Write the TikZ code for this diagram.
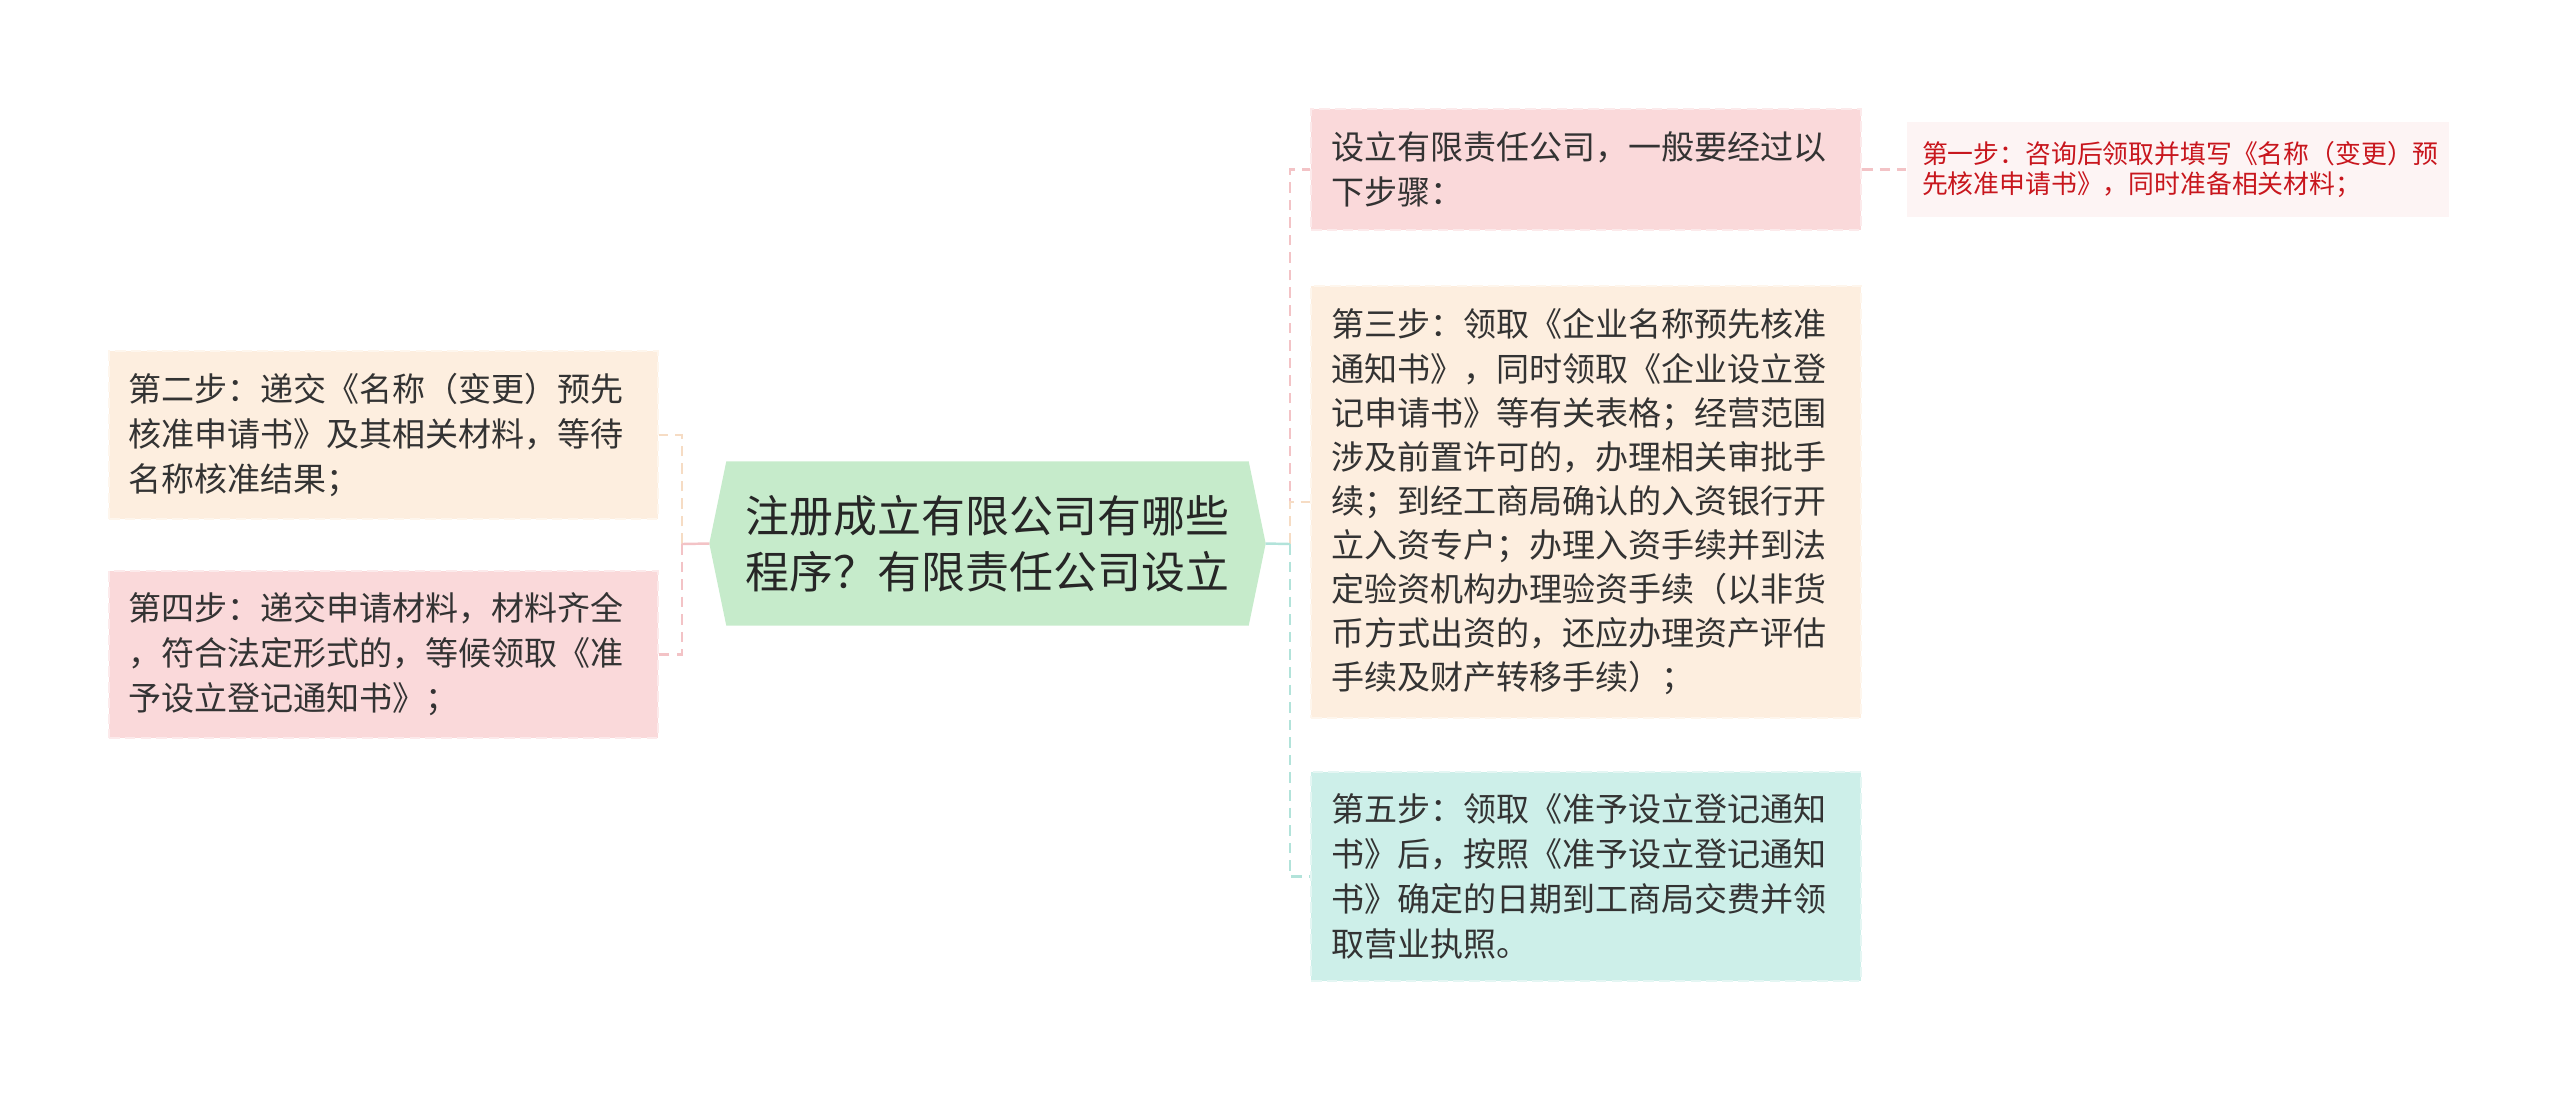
\documentclass[tikz,border=0pt]{standalone}
\usepackage{fontspec}
\setmainfont{Noto Sans CJK SC}
\usetikzlibrary{positioning}

\definecolor{peach}{HTML}{FDEEDF}
\definecolor{peachline}{HTML}{F6DCC4}
\definecolor{pink}{HTML}{FAD9DA}
\definecolor{pinkline}{HTML}{F3C3C6}
\definecolor{mint}{HTML}{CDEFE9}
\definecolor{mintline}{HTML}{B2E3DA}
\definecolor{rootgreen}{HTML}{C6EBCB}
\definecolor{palepink}{HTML}{FDF4F4}
\definecolor{inkgray}{HTML}{333333}
\definecolor{inkred}{HTML}{C8161D}

\pgfdeclarelayer{bg}
\pgfsetlayers{bg,main}

\begin{document}
\begin{tikzpicture}[
    stepbox/.style={shape=rectangle, dash pattern=on 3pt off 1.5pt, line width=0.6pt,
        align=left, inner xsep=0.19cm, inner ysep=0pt, text=inkgray,
        text width=5.11cm, minimum height=#1,
        font=\fontsize{9.4}{12.8}\selectfont},
    link/.style={line width=0.7pt, dash pattern=on 3pt off 2pt}
]
\useasboundingbox (0,0) rectangle (25.60,-10.93);

% centre
\node[shape=rectangle, minimum width=5.21cm, minimum height=1.63cm, inner sep=0pt,
    align=center, text=black!85, font=\fontsize{12.5}{15.8}\selectfont] (root) at (9.875,-5.435)
    {注册成立有限公司有哪些\\程序？有限责任公司设立};
\coordinate (rootL) at ([xshift=-0.17cm]root.west);
\coordinate (rootR) at ([xshift=0.17cm]root.east);
\begin{pgfonlayer}{bg}
\fill[rootgreen] (root.north west) -- (root.north east) -- (rootR) -- (root.south east)
    -- (root.south west) -- (rootL) -- cycle;
\end{pgfonlayer}

% left side
\node[stepbox=1.68cm, fill=peach, draw=peach!55!white] (s2) at (3.835,-4.35)
    {第二步：递交《名称（变更）预先\\核准申请书》及其相关材料，等待\\名称核准结果；};
\node[stepbox=1.67cm, fill=pink, draw=pink!55!white] (s4) at (3.835,-6.545)
    {第四步：递交申请材料，材料齐全\\，符合法定形式的，等候领取《准\\予设立登记通知书》；};

% right side
\node[stepbox=1.21cm, fill=pink, draw=pink!55!white, text width=5.10cm, inner xsep=0.20cm] (intro) at (15.86,-1.695)
    {设立有限责任公司，一般要经过以\\下步骤：};
\node[stepbox=4.32cm, fill=peach, draw=peach!55!white, text width=5.10cm, inner xsep=0.20cm,
    font=\fontsize{9.4}{12.55}\selectfont] (s3) at (15.86,-5.02)
    {第三步：领取《企业名称预先核准\\通知书》，同时领取《企业设立登\\记申请书》等有关表格；经营范围\\涉及前置许可的，办理相关审批手\\续；到经工商局确认的入资银行开\\立入资专户；办理入资手续并到法\\定验资机构办理验资手续（以非货\\币方式出资的，还应办理资产评估\\手续及财产转移手续）；};
\node[stepbox=2.09cm, fill=mint, draw=mint!55!white, text width=5.10cm, inner xsep=0.20cm] (s5) at (15.86,-8.765)
    {第五步：领取《准予设立登记通知\\书》后，按照《准予设立登记通知\\书》确定的日期到工商局交费并领\\取营业执照。};
\node[stepbox=0.95cm, fill=palepink, draw=none, text=inkred, text width=5.12cm, inner xsep=0.15cm,
    font=\fontsize{7.35}{8.8}\selectfont] (s1) at (21.78,-1.695)
    {第一步：咨询后领取并填写《名称（变更）预\\先核准申请书》，同时准备相关材料；};

% connectors
\coordinate (jL) at (6.82,-5.44);
\coordinate (jR) at (12.90,-5.44);
\draw[link, peachline] (jL) |- (s2.east);
\draw[link, pinkline] (jL) |- (s4.east);
\draw[line width=0.7pt, pinkline] (rootL) -- (jL);
\draw[link, pinkline] (jR) |- (intro.west);
\draw[link, peachline] (jR) |- (s3.west);
\draw[link, mintline] (jR) |- (s5.west);
\draw[line width=0.7pt, mintline] (rootR) -- (jR);
\draw[link, pinkline] (intro.east) -- (s1.west);
\end{tikzpicture}
\end{document}
